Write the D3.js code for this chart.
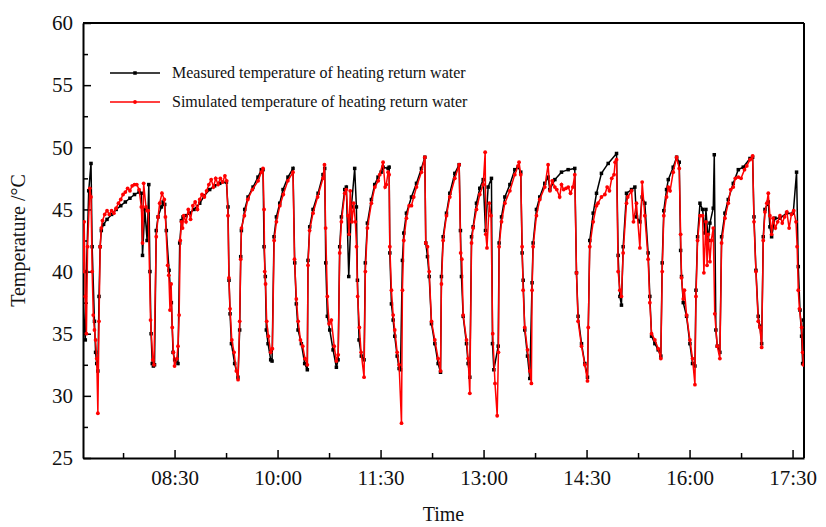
<!DOCTYPE html>
<html>
<head>
<meta charset="utf-8">
<script src="https://cdn.jsdelivr.net/npm/d3@7"></script>
<style>
  body { margin: 0; background: #fff; }
  svg text { font-family: "Liberation Serif", "Times New Roman", serif !important; }
</style>
</head>
<body>
<div id="chart-area"></div>
<script>
// time is minutes after midnight, temperature in °C
const measured = [
  [430, 38.0], [431, 36.0], [432, 34.5], [433, 40.0], [435, 46.5], [437, 48.7], [438, 42.0], [440, 36.0],
  [441, 33.5], [442, 32.6], [443, 32.0], [444, 38.0], [445, 42.0], [446, 43.3], [448, 43.8], [451, 44.2],
  [455, 44.6], [459, 45.0], [463, 45.3], [467, 45.6], [471, 45.9], [475, 46.2], [479, 46.4], [481, 46.3],
  [482, 41.3], [484, 45.0], [486, 42.5], [487.5, 47.0], [488.5, 40.0], [489.5, 35.0], [490.5, 32.6],
  [491.5, 32.4], [492.5, 32.5], [494, 43.3], [495.6, 44.4], [498.5, 45.2], [500, 45.6], [501.4, 45.4],
  [502.8, 43.3], [505.2, 40.1], [507.2, 37.5], [508.7, 33.5], [510.1, 32.9], [513, 32.6],
  [514.5, 42.3], [516, 44.1], [517.4, 44.4], [520, 44.5], [523.2, 44.7], [527, 45.0], [532, 45.5],
  [536, 46.1], [540.7, 46.6], [545, 46.9], [549.5, 47.1], [555.3, 47.2],
  [556.7, 45.2], [557.6, 39.3], [558.5, 36.6], [559.7, 34.2], [562.5, 32.6], [565.4, 31.5],
  [566.9, 35.3], [567.8, 41.2], [568.4, 43.3], [571.3, 45.0], [574.2, 46.0], [578.6, 46.8], [582.9, 47.6],
  [585.8, 48.2], [587.3, 48.2], [588.2, 42.0], [589.3, 39.6], [590.2, 35.3], [591.7, 34.2], [594, 32.9],
  [595.2, 32.8], [596.9, 42.8], [599, 44.4], [601.9, 45.5], [604.8, 46.6], [609.1, 47.6], [613.5, 48.3],
  [615, 40.7], [616.4, 37.4], [617.9, 35.3], [620.8, 34.2], [623.7, 32.6], [626, 32.1],
  [626.6, 40.9], [628.1, 43.6], [631, 45.0], [635.4, 46.3], [639.7, 47.8], [641.2, 48.3],
  [642.1, 40.7], [643.5, 36.4], [645.6, 35.3], [648.5, 33.7], [651.4, 32.3], [652.9, 32.9],
  [654.3, 42.0], [655.8, 44.4], [658.7, 46.6], [660.1, 46.8], [662.2, 39.6], [664.5, 45.2], [667.4, 48.3],
  [668.9, 45.2], [669.8, 39.3], [671.2, 34.5], [673.2, 33.2], [675.6, 32.9],
  [676.7, 40.7], [678.5, 43.9], [682, 45.8], [684.9, 47.0], [687.8, 47.6], [690.5, 48.0], [692.2, 48.4],
  [696.6, 48.3], [697.5, 48.4], [698.1, 41.5], [699.5, 37.4], [701, 36.1], [702.4, 34.8], [704.5, 33.2],
  [706.2, 32.2], [707.4, 32.1], [709.1, 40.9], [710.3, 43.1], [712.6, 44.7], [717, 46.0], [721.4, 47.1],
  [725.7, 48.3], [728.7, 49.2], [729.5, 42.3], [731, 41.2], [732.5, 39.6], [734.5, 35.8], [737.4, 34.2],
  [740.3, 32.6], [742.4, 31.9], [743.2, 39.6], [744.7, 42.8], [747.6, 44.7], [750.5, 46.3], [754.9, 47.9],
  [758.7, 48.6], [759.8, 43.3], [760.7, 39.6], [762.2, 36.4], [765.1, 34.2], [766.5, 32.6], [768, 31.5],
  [769.5, 42.8], [770.9, 43.6], [773.8, 45.5], [776.7, 46.7], [779.7, 47.4], [781.7, 43.3], [784, 46.8],
  [786.9, 47.5], [787.8, 34.2], [789, 32.1], [792.8, 34.0],
  [793.6, 42.3], [795.7, 44.4], [798.6, 46.0], [803, 47.0], [807.3, 48.2], [810.2, 48.4], [812.5, 48.0],
  [813.7, 41.5], [814.6, 39.3], [816, 35.3], [818.4, 33.2], [820.4, 31.4],
  [822.4, 39.1], [823.3, 42.3], [826.2, 45.0], [829.1, 46.0], [833.5, 47.1], [836.4, 47.6], [837.9, 46.6],
  [842.3, 47.4], [848.1, 48.0], [853.9, 48.2], [859.7, 48.3],
  [861.2, 39.9], [862.6, 36.4], [865.6, 34.2], [868.5, 32.6], [870.8, 31.5],
  [872.8, 42.5], [875.8, 44.7], [878.7, 46.3], [883, 47.9], [888.9, 48.7], [896.2, 49.5],
  [897.6, 41.3], [899.1, 38.0], [900.5, 37.3], [902, 42.0], [904.9, 46.3], [909.3, 46.6], [912.2, 46.8],
  [913.6, 44.4], [916.6, 44.0], [918.6, 46.0], [920.9, 45.5], [923.8, 41.5],
  [925.3, 38.0], [926.8, 34.8], [929.7, 34.2], [932.6, 33.7], [934.9, 33.2],
  [936.1, 40.7], [937.5, 44.9], [939.9, 46.6], [941.4, 47.4], [945.7, 48.4], [948.7, 49.2], [951, 48.8],
  [952.2, 41.7], [953, 39.6], [954.5, 37.5], [957.4, 36.4], [960.3, 34.2], [962.6, 32.6], [964.7, 32.4],
  [965.6, 38.5], [967, 42.8], [969.1, 45.5], [971.4, 45.0], [973.4, 43.1], [974.3, 45.0], [976.3, 42.5],
  [977.8, 43.9], [980.7, 45.1], [981.6, 49.4], [983, 35.3], [984.2, 34.0], [986.5, 33.5],
  [988, 42.8], [990.9, 44.7], [993.8, 45.8], [998.2, 47.1], [1002.6, 48.2], [1006.9, 48.4], [1012.8, 49.1],
  [1015.1, 49.2], [1016.3, 44.4], [1018, 40.1], [1020, 36.4], [1021.5, 35.6], [1023, 34.2],
  [1024.4, 42.8], [1025.9, 45.0], [1028.8, 45.6], [1030.2, 43.6], [1031.7, 42.8], [1034.6, 44.3],
  [1039, 44.3], [1044.8, 44.7], [1050.6, 44.7], [1053.5, 48.0],
  [1055, 40.4], [1056.5, 36.9], [1057.9, 34.8], [1058.8, 32.6], [1059.4, 36.1]
];

const simulated = [
  [430, 40.0], [431, 44.0], [432, 38.0], [433, 35.0], [434, 42.0], [436, 46.7], [437, 46.0], [438, 40.0],
  [439, 36.5], [440, 35.3], [441, 34.5], [442, 33.0], [443, 28.6], [444, 36.0], [445, 42.0], [446, 43.5],
  [447, 44.1], [449, 44.6], [451, 44.9], [453, 44.6], [455, 44.9], [457, 44.7], [459, 45.1], [461, 45.5],
  [463, 45.8], [465, 46.2], [467, 46.4], [469, 46.7], [471, 46.5], [473, 46.9], [475, 47.0], [477, 47.0],
  [479, 46.6], [481, 45.2], [482, 42.3], [483, 47.1], [485, 45.2], [486, 44.9], [487, 44.9], [489, 36.1],
  [491, 32.9], [492, 32.5], [494, 42.8], [495.6, 44.4], [497, 45.5], [499, 46.3], [501, 45.8],
  [502, 44.4], [504, 40.5], [505, 39.7], [506, 36.9], [507, 39.0], [508, 35.5], [509, 33.5], [510, 32.4],
  [512, 33.0], [513, 34.0], [514, 36.5], [515, 42.5], [516, 44.0], [517, 43.5], [518, 44.5], [520, 44.0],
  [522, 45.0], [524, 44.2], [526, 45.3], [528, 45.6], [530, 45.0], [532, 45.8], [534, 46.2], [536, 46.0],
  [538, 46.5], [540, 47.0], [542, 47.4], [544, 46.8], [546, 47.5], [548, 47.0], [550, 47.5], [552, 47.2],
  [554, 47.7], [555.5, 47.3], [556.7, 44.5], [557.5, 39.5], [558.5, 37.0], [560, 34.5], [562, 33.5],
  [564, 32.0], [565.5, 31.3], [566.9, 36.0], [567.8, 41.0], [568.5, 43.5], [571, 44.5], [574, 45.8],
  [578, 46.6], [583, 47.3], [585.8, 48.0], [587.3, 48.3], [588.2, 45.0], [588.8, 40.0], [589.5, 39.0],
  [590.5, 36.0], [592, 34.8], [594, 33.5], [595.5, 33.8], [597, 42.5], [599, 44.0], [602, 45.3],
  [605, 46.2], [609, 47.3], [613.5, 48.0], [614.8, 41.0], [616.4, 37.8], [618, 36.0], [620, 34.5],
  [622, 34.0], [624, 33.0], [626, 32.5], [626.6, 40.5], [628, 43.3], [631, 44.7], [635, 46.0],
  [639.7, 47.5], [641, 48.6], [642, 43.5], [643.5, 38.0], [645, 35.8], [647, 36.1], [649.5, 34.0],
  [651.4, 32.8], [653, 33.3], [654.3, 41.5], [655.8, 44.0], [658.7, 46.3], [660, 46.6], [661.5, 44.5],
  [662.5, 43.0], [663.5, 46.5], [665, 44.0], [666.5, 45.5], [668, 44.0], [669, 42.0], [670, 38.0],
  [671.5, 35.5], [673, 33.5], [675.6, 31.5], [676.7, 40.0], [678.5, 43.5], [682, 45.5], [685, 46.8],
  [688, 47.3], [689.3, 47.8], [692.2, 48.8], [694, 46.8], [695, 47.0], [696.6, 48.0], [697.5, 47.8],
  [698.1, 42.0], [699.5, 38.5], [701, 36.5], [702.4, 35.3], [704.5, 33.5], [706.2, 32.5], [708.3, 27.8],
  [709.1, 38.5], [710.3, 42.5], [712.6, 44.3], [715, 45.3], [717, 45.3], [719, 46.0], [721.4, 46.8],
  [725.7, 48.0], [728.7, 49.2], [729.5, 42.3], [731, 42.0], [732.5, 40.0], [734.5, 36.0], [737.4, 34.5],
  [740.3, 33.0], [742.4, 32.0], [743.2, 39.0], [744.7, 42.5], [747.6, 44.5], [750.5, 46.0], [754.9, 47.5],
  [758.7, 48.6], [760, 41.5], [761, 41.0], [762.2, 36.5], [765.1, 34.5], [766.5, 33.0], [768, 30.2],
  [769.5, 42.3], [770.9, 43.5], [773.8, 45.0], [776.7, 46.2], [779.7, 47.0], [781.4, 49.6], [782, 43.0],
  [783, 41.9], [785, 45.5], [786.5, 44.5], [788, 35.0], [790, 31.0], [791.9, 28.4], [793, 33.5],
  [793.6, 42.0], [795.7, 44.0], [798.6, 45.5], [803, 46.5], [807.3, 47.8], [810.2, 48.5], [811, 48.8],
  [812.5, 47.8], [813.7, 42.0], [814.6, 38.5], [816, 35.5], [818.4, 33.7], [820.4, 32.0], [821.8, 31.0],
  [822.4, 38.5], [823.3, 42.0], [826.2, 44.5], [829.1, 45.8], [833.5, 46.8], [836.4, 48.6], [838, 46.5],
  [840, 47.3], [842.3, 46.8], [844, 46.6], [846.5, 46.0], [848.1, 47.0], [850, 46.6], [852, 46.7],
  [854, 46.8], [856, 46.3], [858, 46.8], [859.7, 47.8], [861.2, 39.9], [862.6, 36.0], [865.6, 34.0],
  [868.5, 32.5], [870.8, 31.2], [871.5, 35.5], [872.8, 42.0], [875.8, 44.0], [878.7, 45.3], [880, 45.5],
  [883, 46.0], [886, 46.2], [888, 46.8], [890, 46.5], [892, 47.5], [894, 47.8], [895, 48.8], [896.2, 49.0],
  [897.6, 40.0], [899.1, 38.5], [900.5, 38.0], [902, 41.5], [904.9, 45.5], [906, 46.0], [909.3, 46.5],
  [911, 44.0], [913.6, 45.5], [916.6, 41.9], [918.6, 47.2], [920.9, 44.5], [923.8, 41.0], [925.3, 37.5],
  [926.8, 35.0], [929.7, 34.5], [932.6, 33.8], [934.9, 33.0], [936.1, 40.0], [937.5, 44.5], [939.9, 46.0],
  [941.4, 46.8], [943, 46.5], [945.7, 48.0], [948.7, 49.2], [951, 48.3], [952.2, 43.0], [953, 39.5],
  [954.5, 37.8], [955.5, 38.5], [957.4, 36.5], [960.3, 34.5], [962.6, 33.0], [964.7, 30.9], [965.6, 38.0],
  [967, 42.5], [969.1, 44.5], [971.4, 44.5], [972.5, 39.9], [974.3, 44.0], [975.3, 40.5], [976.3, 43.0],
  [977.8, 40.8], [979, 42.5], [980.7, 43.5], [982, 36.6], [984.2, 34.0], [986.5, 33.0], [988, 42.3],
  [990.9, 44.3], [993.8, 45.5], [996, 46.6], [998.2, 46.8], [1000, 47.5], [1002.6, 47.6], [1005, 47.5],
  [1008, 48.2], [1010, 48.5], [1012.8, 49.0], [1015.1, 49.3], [1016.3, 44.0], [1018, 40.0], [1020, 36.0],
  [1021.5, 35.5], [1023, 33.9], [1024.4, 42.5], [1025.9, 44.8], [1027.5, 45.5], [1028.8, 46.3],
  [1030.2, 44.5], [1031.7, 43.0], [1033, 44.3], [1035, 43.5], [1037, 44.0], [1039, 44.5], [1041, 43.9],
  [1043, 44.4], [1045, 44.8], [1047, 43.5], [1049, 44.6], [1051, 44.9], [1053, 44.0], [1054, 42.0],
  [1055, 38.5], [1056, 37.0], [1057.9, 35.5], [1058.8, 33.5], [1059.5, 32.5]
];

const xDomain = ["07:10", "17:40"];
const xTickLabels = ["08:30", "10:00", "11:30", "13:00", "14:30", "16:00", "17:30"];
const xMinorLabels = ["07:45", "09:15", "10:45", "12:15", "13:45", "15:15", "16:45"];
const yTicks = [25, 30, 35, 40, 45, 50, 55, 60];
const yMinorTicks = [27.5, 32.5, 37.5, 42.5, 47.5, 52.5, 57.5];
const seriesNames = ["Measured temperature of heating return water", "Simulated temperature of heating return water"];

const margin = { top: 23, right: 22, bottom: 69, left: 83 };
const width = 826 - margin.left - margin.right;
const height = 527 - margin.top - margin.bottom;

const parseTime = d3.timeParse("%H:%M");
const midnight = parseTime("00:00");
const atMinute = m => new Date(midnight.getTime() + m * 60000);

const svg = d3.select("#chart-area")
  .append("svg")
    .attr("width", 826)
    .attr("height", 527);

const g = svg.append("g")
  .attr("transform", `translate(${margin.left}, ${margin.top})`);

const x = d3.scaleTime()
  .domain(xDomain.map(parseTime))
  .range([0, width]);

const y = d3.scaleLinear()
  .domain([25, 60])
  .range([height, 0]);

g.append("clipPath")
  .attr("id", "plot-clip")
  .append("rect")
    .attr("width", width)
    .attr("height", height);

// axes, ticks pointing into the plot
g.append("g")
  .attr("class", "x-axis")
  .attr("transform", `translate(0, ${height})`)
  .call(d3.axisBottom(x)
    .tickValues(xTickLabels.map(parseTime))
    .tickFormat(d3.timeFormat("%H:%M"))
    .tickSizeInner(-8)
    .tickSizeOuter(0)
    .tickPadding(12));

g.append("g")
  .attr("class", "x-minor")
  .attr("transform", `translate(0, ${height})`)
  .call(d3.axisBottom(x)
    .tickValues(xMinorLabels.map(parseTime))
    .tickFormat("")
    .tickSizeInner(-5)
    .tickSizeOuter(0));

g.append("g")
  .attr("class", "y-axis")
  .call(d3.axisLeft(y)
    .tickValues(yTicks)
    .tickSizeInner(-8)
    .tickSizeOuter(0)
    .tickPadding(10));

g.append("g")
  .attr("class", "y-minor")
  .call(d3.axisLeft(y)
    .tickValues(yMinorTicks)
    .tickFormat("")
    .tickSizeInner(-5)
    .tickSizeOuter(0));

g.selectAll(".x-minor .domain, .y-minor .domain").remove();
g.selectAll(".domain").attr("stroke-width", 2);
g.selectAll(".tick line").attr("stroke-width", 1.5);
g.selectAll(".x-axis, .y-axis").attr("font-family", null);
g.selectAll(".x-axis text, .y-axis text")
  .style("font-family", "'Liberation Serif', serif")
  .attr("font-size", "21px")
  .attr("fill", "#111");

// top and right frame
g.append("line")
  .attr("x1", 0).attr("x2", width)
  .attr("y1", 0).attr("y2", 0)
  .attr("stroke", "#000").attr("stroke-width", 2);
g.append("line")
  .attr("x1", width).attr("x2", width)
  .attr("y1", 0).attr("y2", height)
  .attr("stroke", "#000").attr("stroke-width", 2);

g.append("text")
  .attr("x", width / 2)
  .attr("y", height + 63)
  .attr("font-size", "20px")
  .attr("text-anchor", "middle")
  .attr("fill", "#111")
  .text("Time");

g.append("text")
  .attr("x", -(height / 2))
  .attr("y", -58)
  .attr("font-size", "20px")
  .attr("text-anchor", "middle")
  .attr("transform", "rotate(-90)")
  .attr("fill", "#111")
  .text("Temperature /°C");

const line = d3.line()
  .x(d => x(atMinute(d[0])))
  .y(d => y(d[1]));

const plot = g.append("g").attr("clip-path", "url(#plot-clip)");

plot.append("path")
  .datum(measured)
  .attr("fill", "none")
  .attr("stroke", "#000")
  .attr("stroke-width", 1.5)
  .attr("d", line);

plot.selectAll(".m-pt")
  .data(measured)
  .enter()
  .append("rect")
    .attr("class", "m-pt")
    .attr("x", d => x(atMinute(d[0])) - 1.75)
    .attr("y", d => y(d[1]) - 1.75)
    .attr("width", 3.5)
    .attr("height", 3.5)
    .attr("fill", "#000");

plot.append("path")
  .datum(simulated)
  .attr("fill", "none")
  .attr("stroke", "#f00")
  .attr("stroke-width", 1.5)
  .attr("d", line);

plot.selectAll(".s-pt")
  .data(simulated)
  .enter()
  .append("circle")
    .attr("class", "s-pt")
    .attr("cx", d => x(atMinute(d[0])))
    .attr("cy", d => y(d[1]))
    .attr("r", 1.9)
    .attr("fill", "#f00");

// legend
const legend = g.append("g")
  .attr("transform", "translate(27, 50)");

const legendColors = ["#000", "#f00"];

seriesNames.forEach((name, i) => {
  const row = legend.append("g")
    .attr("transform", `translate(0, ${i * 29})`);
  row.append("line")
    .attr("x1", 0).attr("x2", 50)
    .attr("stroke", legendColors[i])
    .attr("stroke-width", 1.3);
  if (i === 0) {
    row.append("rect")
      .attr("x", 23.25).attr("y", -1.75)
      .attr("width", 3.5).attr("height", 3.5)
      .attr("fill", legendColors[i]);
  } else {
    row.append("circle")
      .attr("cx", 25).attr("r", 1.9)
      .attr("fill", legendColors[i]);
  }
  row.append("text")
    .attr("x", 62)
    .attr("y", 5)
    .attr("font-size", "16px")
    .attr("fill", "#111")
    .text(name);
});
</script>
</body>
</html>
